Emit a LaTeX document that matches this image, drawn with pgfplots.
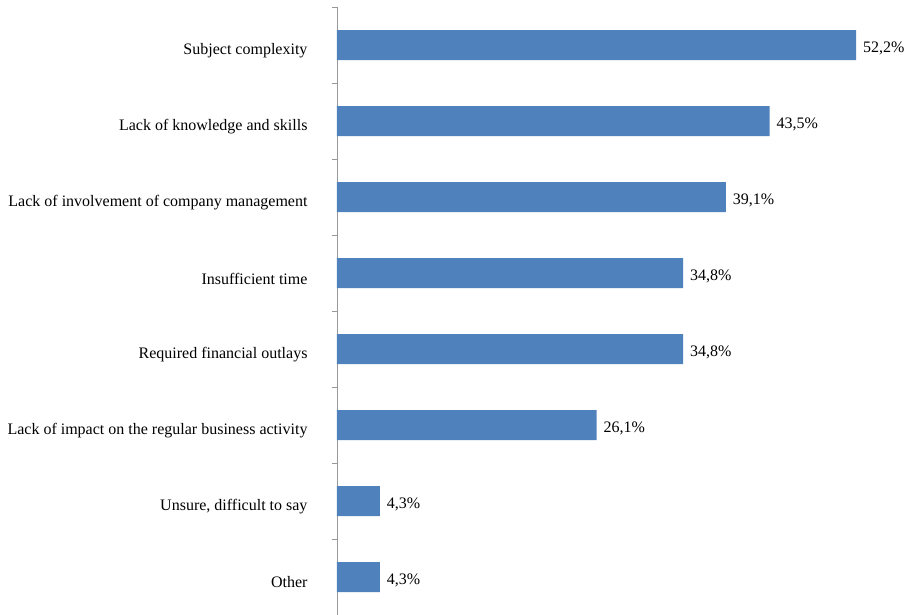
\documentclass[border=0pt]{standalone}
\usepackage{fontspec}
\setmainfont{Liberation Serif}
\usepackage{pgfplots}
\pgfplotsset{compat=1.18}
\definecolor{barblue}{HTML}{4F81BD}
\begin{document}
\fontsize{16bp}{19bp}\selectfont
\begin{tikzpicture}
\useasboundingbox (0,0) rectangle (911bp,615bp);
\begin{axis}[
  at={(337bp,0bp)}, anchor=south west,
  scale only axis, width=574bp, height=608bp,
  xmin=0, xmax=57.73, ymin=-0.5, ymax=7.5, y dir=reverse,
  hide x axis,
  axis y line*=left,
  y axis line style={draw=gray!80, line width=0.8bp},
  ytick={0,...,7},
  yticklabels={Subject complexity, Lack of knowledge and skills, Lack of involvement of company management, Insufficient time, Required financial outlays, Lack of impact on the regular business activity, {Unsure, difficult to say}, Other},
  major tick length=0pt,
  minor ytick={-0.5,0.5,...,7.5},
  minor tick length=5bp,
  tick align=outside,
  minor tick style={draw=gray!80, line width=0.8bp},
  yticklabel style={font=\fontsize{16bp}{19bp}\selectfont, xshift=-24bp, yshift=-5.5bp},
  clip=false,
]
\addplot[xbar, fill=barblue, draw=none, bar width=30bp,
  nodes near coords={\pgfplotspointmeta\%},
  point meta=explicit symbolic,
  nodes near coords style={anchor=west, font=\fontsize{16bp}{19bp}\selectfont, text=black, xshift=1.5bp, yshift=-3bp}]
  table[meta=lab] {
x y lab
52.2 0 52,2
43.5 1 43,5
39.1 2 39,1
34.8 3 34,8
34.8 4 34,8
26.1 5 26,1
4.3 6 4,3
4.3 7 4,3
};
\end{axis}
\end{tikzpicture}
\end{document}
